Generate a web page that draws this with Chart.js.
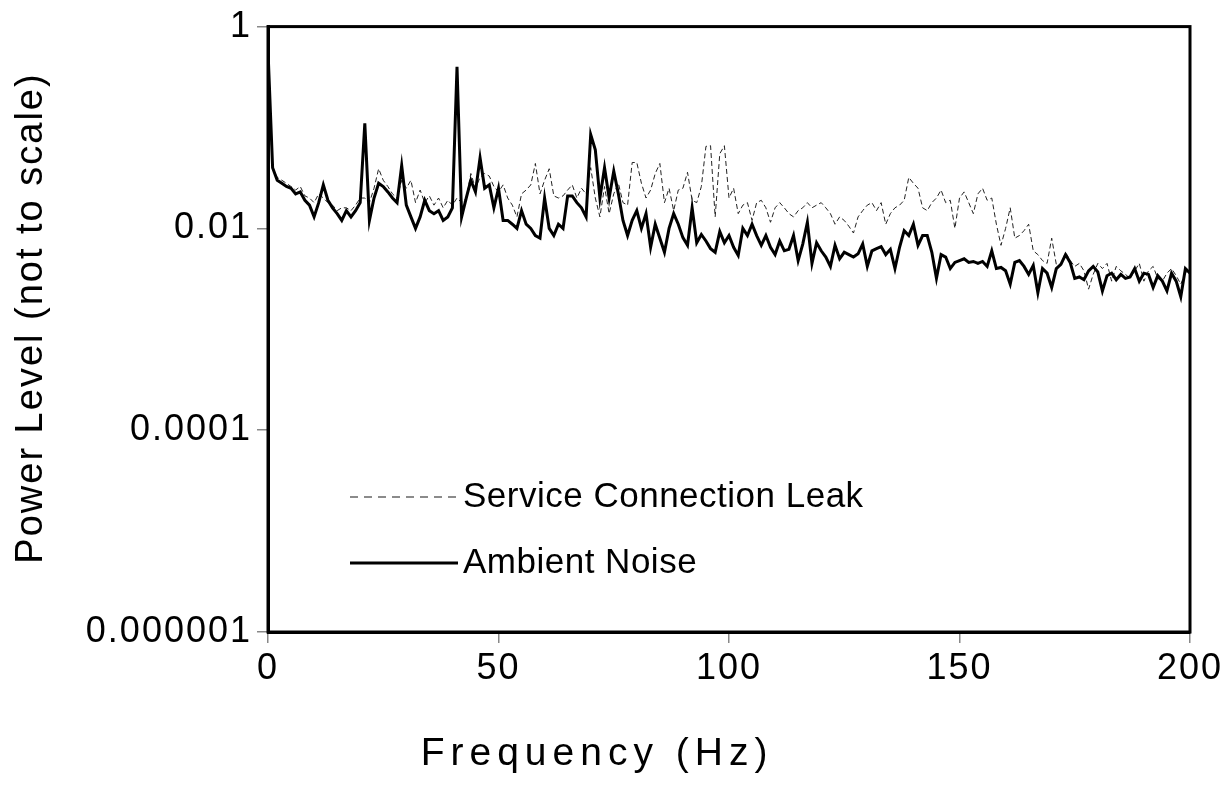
<!DOCTYPE html>
<html lang="en">
<head>
<meta charset="UTF-8">
<title>Service Connection Leak vs Ambient Noise</title>
<script src="https://cdn.jsdelivr.net/npm/chart.js"></script>
<style>
  html, body { margin: 0; padding: 0; background: #fff; }
  #wrap { width: 1225px; height: 804px; }
</style>
</head>
<body>
<div id="wrap"><canvas id="chart" width="1225" height="804"></canvas></div>
<script>
// frequency bins, 1 Hz apart, 0..200 Hz
const freqs = Array.from({ length: 201 }, (_, i) => i);

const leak = [
  0.3, 0.04, 0.032, 0.03, 0.028, 0.026, 0.024, 0.026, 0.021, 0.02,
  0.018, 0.022, 0.02, 0.018, 0.017, 0.015, 0.016, 0.016, 0.015, 0.017,
  0.02, 0.02, 0.018, 0.025, 0.039, 0.03, 0.026, 0.022, 0.02, 0.03,
  0.025, 0.03, 0.018, 0.024, 0.018, 0.021, 0.017, 0.02, 0.016, 0.019,
  0.017, 0.02, 0.018, 0.02, 0.035, 0.025, 0.032, 0.035, 0.033, 0.026,
  0.023, 0.027, 0.02, 0.017, 0.013, 0.022, 0.024, 0.027, 0.044, 0.022,
  0.03, 0.039, 0.021, 0.02, 0.021, 0.024, 0.027, 0.02, 0.025, 0.022,
  0.04, 0.02, 0.013, 0.026, 0.014, 0.022, 0.028, 0.018, 0.017, 0.045,
  0.045, 0.028, 0.02, 0.024, 0.035, 0.044, 0.018, 0.025, 0.015, 0.024,
  0.025, 0.036, 0.019, 0.018, 0.026, 0.065, 0.066, 0.013, 0.055, 0.066,
  0.02, 0.025, 0.014, 0.017, 0.018, 0.012, 0.018, 0.019, 0.016, 0.0115,
  0.016, 0.018, 0.016, 0.014, 0.013, 0.015, 0.016, 0.018, 0.016, 0.017,
  0.018, 0.016, 0.014, 0.011, 0.013, 0.012, 0.0105, 0.009, 0.013, 0.015,
  0.017, 0.018, 0.015, 0.018, 0.011, 0.014, 0.016, 0.017, 0.019, 0.032,
  0.028, 0.025, 0.016, 0.015, 0.018, 0.02, 0.024, 0.018, 0.019, 0.01,
  0.02, 0.023, 0.018, 0.014, 0.022, 0.025, 0.019, 0.02, 0.011, 0.0068,
  0.01, 0.016, 0.008, 0.0085, 0.0095, 0.011, 0.006, 0.0055, 0.0048, 0.0045,
  0.008, 0.0044, 0.0044, 0.0058, 0.0048, 0.0042, 0.0045, 0.0038, 0.0025, 0.0035,
  0.0045, 0.004, 0.0045, 0.003, 0.0042, 0.0038, 0.0035, 0.0032, 0.0038, 0.0045,
  0.003, 0.0038, 0.0042, 0.0032, 0.003, 0.0036, 0.004, 0.0034, 0.0028, 0.0036,
  0.0038
];

const ambient = [
  0.58, 0.04, 0.03, 0.028, 0.026, 0.025, 0.022, 0.023, 0.019, 0.017,
  0.013, 0.018, 0.027, 0.019, 0.016, 0.014, 0.012, 0.015, 0.013, 0.015,
  0.018, 0.11, 0.012, 0.02, 0.028, 0.026, 0.023, 0.02, 0.018, 0.042,
  0.017, 0.013, 0.01, 0.013, 0.019, 0.015, 0.014, 0.015, 0.012, 0.013,
  0.016, 0.4, 0.013, 0.02, 0.03, 0.023, 0.05, 0.025, 0.027, 0.016,
  0.025, 0.012, 0.012, 0.011, 0.01, 0.015, 0.011, 0.01, 0.0085, 0.008,
  0.02, 0.01, 0.0085, 0.011, 0.01, 0.021, 0.021, 0.018, 0.016, 0.013,
  0.085, 0.06, 0.02, 0.04, 0.02, 0.037, 0.022, 0.012, 0.0085, 0.012,
  0.015, 0.01, 0.014, 0.0065, 0.011, 0.008, 0.0058, 0.01, 0.014, 0.011,
  0.0081, 0.0068, 0.016, 0.0072, 0.0087, 0.0075, 0.0063, 0.0058, 0.0093, 0.0072,
  0.0085, 0.0065, 0.0054, 0.01, 0.0085, 0.011, 0.0085, 0.0068, 0.0085, 0.0065,
  0.0055, 0.0075, 0.006, 0.0062, 0.0085, 0.0048, 0.007, 0.0115, 0.0045, 0.0072,
  0.006, 0.0052, 0.0042, 0.0068, 0.005, 0.0058, 0.0055, 0.0052, 0.0056, 0.007,
  0.0042, 0.006, 0.0063, 0.0066, 0.0055, 0.0062, 0.004, 0.0065, 0.0095, 0.0085,
  0.011, 0.0068, 0.0085, 0.0085, 0.0058, 0.0032, 0.0055, 0.0052, 0.004, 0.0046,
  0.0048, 0.005, 0.0046, 0.0047, 0.0045, 0.0047, 0.0042, 0.006, 0.004, 0.0041,
  0.0038, 0.0028, 0.0046, 0.0048, 0.0042, 0.0035, 0.0043, 0.0023, 0.004, 0.0036,
  0.0026, 0.004, 0.0044, 0.0055, 0.0046, 0.0032, 0.0033, 0.0031, 0.0038, 0.0042,
  0.0037, 0.0024, 0.0034, 0.0036, 0.0031, 0.0035, 0.0032, 0.0033, 0.004, 0.003,
  0.0036, 0.0035, 0.0026, 0.0034, 0.003, 0.0024, 0.0036, 0.003, 0.0021, 0.004,
  0.0036
];

const seriesNames = ['Service Connection Leak', 'Ambient Noise'];
const yTickValues = [1, 0.01, 0.0001, 0.000001];
const yTickLabels = ['1', '0.01', '0.0001', '0.000001'];
const xTitle = 'Frequency (Hz)';
const yTitle = 'Power Level (not to scale)';

const FONT = '"Liberation Sans", Arial, sans-serif';

// tick labels in the original are a little spread out
const spacingPlugin = {
  id: 'spacing',
  beforeDraw(chart) { chart.ctx.letterSpacing = '2px'; }
};

// black frame round the plot
const framePlugin = {
  id: 'frame',
  afterDatasetsDraw(chart) {
    const { ctx, chartArea: a } = chart;
    ctx.save();
    ctx.strokeStyle = '#000';
    ctx.lineWidth = 3;
    ctx.strokeRect(a.left, a.top, a.right - a.left, a.bottom - a.top);
    ctx.restore();
  }
};

// legend sits inside the plot, lower left
const legendPlugin = {
  id: 'inLegend',
  afterDraw(chart) {
    const { ctx } = chart;
    ctx.save();
    ctx.font = '35px ' + FONT;
    ctx.letterSpacing = '0.5px';
    ctx.textBaseline = 'middle';
    ctx.fillStyle = '#000';

    ctx.strokeStyle = '#666';
    ctx.lineWidth = 1.5;
    ctx.setLineDash([8, 6]);
    ctx.beginPath(); ctx.moveTo(350, 497); ctx.lineTo(458, 497); ctx.stroke();
    ctx.fillText(seriesNames[0], 463, 497);

    ctx.setLineDash([]);
    ctx.strokeStyle = '#000';
    ctx.lineWidth = 3;
    ctx.beginPath(); ctx.moveTo(350, 563); ctx.lineTo(458, 563); ctx.stroke();
    ctx.fillText(seriesNames[1], 463, 563);
    ctx.restore();
  }
};

// axis titles drawn by hand so the placement can match the original
const titlePlugin = {
  id: 'titles',
  afterDraw(chart) {
    const { ctx } = chart;
    ctx.save();
    ctx.fillStyle = '#000';
    ctx.textAlign = 'center';
    ctx.textBaseline = 'middle';
    ctx.font = '39px ' + FONT;
    ctx.letterSpacing = '6px';
    ctx.fillText(xTitle, 597, 754);
    ctx.font = '38px ' + FONT;
    ctx.letterSpacing = '2px';
    ctx.translate(32, 318);
    ctx.rotate(-Math.PI / 2);
    ctx.fillText(yTitle, 0, 0);
    ctx.restore();
  }
};

const ctx = document.getElementById('chart').getContext('2d');
new Chart(ctx, {
  type: 'line',
  data: {
    datasets: [
      {
        label: seriesNames[1],
        data: ambient.map((v, i) => ({ x: freqs[i], y: v })),
        borderColor: '#000',
        borderWidth: 3,
        pointRadius: 0,
        tension: 0
      },
      {
        label: seriesNames[0],
        data: leak.map((v, i) => ({ x: freqs[i], y: v })),
        borderColor: '#222',
        borderWidth: 1,
        borderDash: [5, 3],
        pointRadius: 0,
        tension: 0
      }
    ]
  },
  options: {
    responsive: false,
    devicePixelRatio: 1,
    animation: false,
    layout: { padding: { left: 0, top: 26, right: 35, bottom: 0 } },
    plugins: {
      legend: { display: false },
      tooltip: { enabled: false }
    },
    scales: {
      x: {
        type: 'linear',
        min: 0,
        max: 200,
        afterFit: (s) => { s.height = 172; },
        ticks: {
          stepSize: 50,
          color: '#000',
          padding: 4,
          maxRotation: 0,
          font: { family: FONT, size: 36 }
        },
        grid: { drawOnChartArea: false, drawTicks: true, tickLength: 11, color: '#888', lineWidth: 1.5 },
        border: { display: true, color: '#000', width: 3 }
      },
      y: {
        type: 'logarithmic',
        min: 0.000001,
        max: 1,
        afterFit: (s) => { s.width = 268; },
        afterBuildTicks: (s) => { s.ticks = yTickValues.map(v => ({ value: v })); },
        ticks: {
          color: '#000',
          padding: 5,
          font: { family: FONT, size: 36 },
          callback: (v) => {
            const k = yTickValues.findIndex(t => Math.abs(Math.log10(t) - Math.log10(v)) < 1e-6);
            return k >= 0 ? yTickLabels[k] : '';
          }
        },
        grid: { drawOnChartArea: false, drawTicks: true, tickLength: 11, color: '#888', lineWidth: 1.5 },
        border: { display: true, color: '#000', width: 3 }
      }
    }
  },
  plugins: [spacingPlugin, framePlugin, legendPlugin, titlePlugin]
});
</script>
</body>
</html>
